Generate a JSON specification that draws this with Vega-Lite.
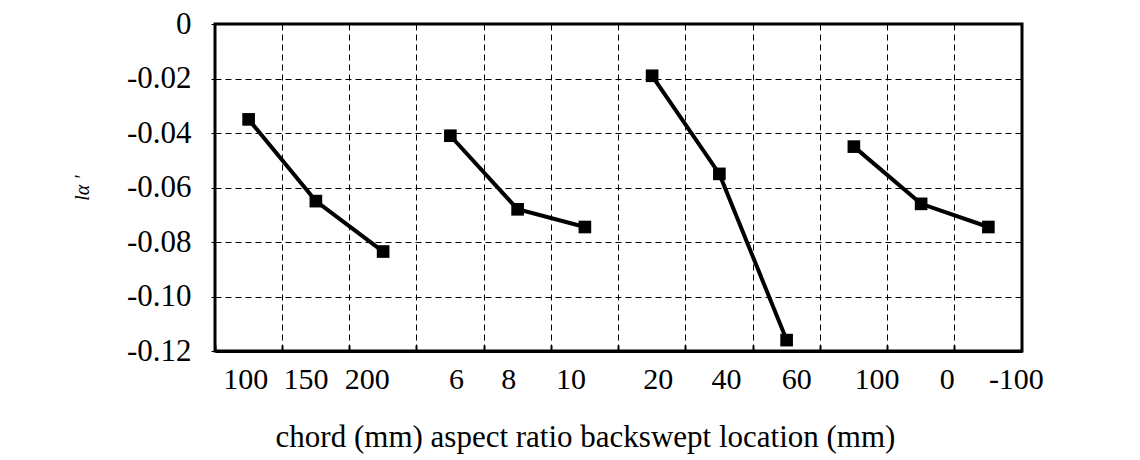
{
  "$schema": "https://vega.github.io/schema/vega-lite/v6.json",
  "autosize": "none",
  "width": 807,
  "height": 327,
  "padding": {"left": 215, "top": 24, "right": 118, "bottom": 109},
  "background": "white",
  "config": {
    "font": "'Liberation Serif', 'Times New Roman', serif",
    "view": {"stroke": "black", "strokeWidth": 3},
    "axis": {"labelFont": "'Liberation Serif', 'Times New Roman', serif", "titleFont": "'Liberation Serif', 'Times New Roman', serif", "labelColor": "black", "titleColor": "black"}
  },
  "data": {
    "values": [
      {"group": "chord", "key": "chord|100", "value": -0.035},
      {"group": "chord", "key": "chord|150", "value": -0.065},
      {"group": "chord", "key": "chord|200", "value": -0.0835},
      {"group": "aspect", "key": "aspect|6", "value": -0.041},
      {"group": "aspect", "key": "aspect|8", "value": -0.068},
      {"group": "aspect", "key": "aspect|10", "value": -0.0745},
      {"group": "backswept", "key": "backswept|20", "value": -0.019},
      {"group": "backswept", "key": "backswept|40", "value": -0.055},
      {"group": "backswept", "key": "backswept|60", "value": -0.116},
      {"group": "location", "key": "location|100", "value": -0.045},
      {"group": "location", "key": "location|0", "value": -0.066},
      {"group": "location", "key": "location|-100", "value": -0.0745}
    ]
  },
  "encoding": {
    "x": {
      "field": "key",
      "type": "nominal",
      "sort": null,
      "scale": {"type": "band", "paddingInner": 0, "paddingOuter": 0}
    },
    "y": {
      "field": "value",
      "type": "quantitative",
      "scale": {"domain": [-0.12, 0], "nice": false, "zero": false},
      "axis": {
        "values": [0, -0.02, -0.04, -0.06, -0.08, -0.1, -0.12],
        "labelExpr": "datum.value == 0 ? '0' : replace(format(datum.value, '.2f'), '\u2212', '-')",
        "labelFontSize": 31,
        "labelPadding": 20,
        "tickSize": 4,
        "tickColor": "black",
        "domainColor": "black",
        "grid": true,
        "gridColor": "black",
        "gridDash": [6, 4],
        "gridWidth": 1,
        "title": "l\u03b1 \u2032",
        "titleFontSize": 20,
        "titleFontStyle": "italic",
        "titleFontWeight": "normal",
        "titlePadding": 34
      }
    }
  },
  "layer": [
    {
      "mark": {"type": "line", "color": "black", "strokeWidth": 4},
      "encoding": {
        "detail": {"field": "group"},
        "x": {
          "field": "key",
          "type": "nominal",
          "sort": null,
          "axis": {
            "orient": "bottom",
            "bandPosition": 0,
            "labels": false,
            "title": null,
            "grid": true,
            "gridColor": "black",
            "gridDash": [6, 4],
            "gridWidth": 1,
            "ticks": true,
            "tickSize": -6,
            "tickColor": "black",
            "tickWidth": 2,
            "domainColor": "black",
            "domainWidth": 3
          }
        }
      }
    },
    {
      "mark": {"type": "point", "shape": "square", "filled": true, "color": "black", "size": 160, "opacity": 1},
      "encoding": {
        "x": {
          "field": "key",
          "type": "nominal",
          "sort": null,
          "axis": {
            "orient": "bottom",
            "grid": false,
            "ticks": false,
            "domain": false,
            "labelExpr": "split(datum.label, '|')[1]",
            "labelFontSize": 30,
            "labelPadding": 13,
            "labelAngle": 0,
            "labelOffset": {
              "condition": [
                {"test": "datum.value === 'chord|100'", "value": -3},
                {"test": "datum.value === 'chord|150'", "value": -10},
                {"test": "datum.value === 'chord|200'", "value": -16},
                {"test": "datum.value === 'aspect|6'", "value": 6},
                {"test": "datum.value === 'aspect|8'", "value": -9},
                {"test": "datum.value === 'aspect|10'", "value": -14},
                {"test": "datum.value === 'backswept|20'", "value": 6},
                {"test": "datum.value === 'backswept|40'", "value": 7},
                {"test": "datum.value === 'backswept|60'", "value": 10},
                {"test": "datum.value === 'location|100'", "value": 23},
                {"test": "datum.value === 'location|0'", "value": 26},
                {"test": "datum.value === 'location|-100'", "value": 28}
              ],
              "value": 0
            },
            "title": "chord (mm) aspect ratio backswept location (mm)",
            "titleFontSize": 31,
            "titleFontWeight": "normal",
            "titlePadding": 28,
            "titleX": 370,
            "titleAnchor": "middle"
          }
        }
      }
    }
  ],
  "resolve": {"axis": {"x": "independent"}}
}
